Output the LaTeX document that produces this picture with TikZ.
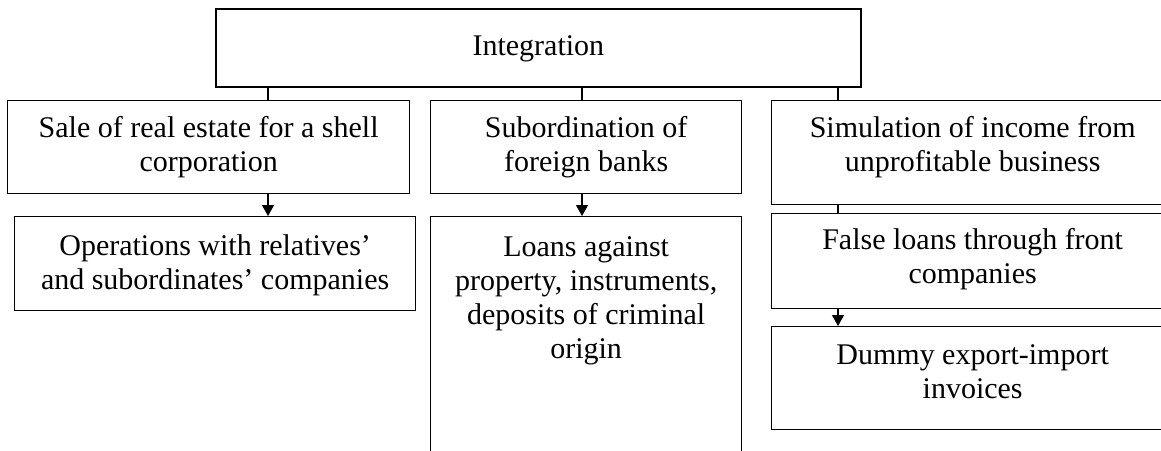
\documentclass[tikz,border=0pt]{standalone}
\usepackage{fontspec}
\setmainfont{Liberation Serif}
\usetikzlibrary{arrows.meta}
\newcommand{\bxtext}[4]{\parbox[c][#2][t]{#1}{\centering\fontsize{30pt}{34pt}\selectfont\vspace*{#3}\rule{0pt}{24pt}#4\par}}
\begin{document}
\begin{tikzpicture}[x=1pt,y=-1pt,
  box/.style={draw=black, line width=1.3pt, inner sep=0pt, anchor=north west},
  topbox/.style={box, line width=1.8pt},
  link/.style={draw=black, line width=1.3pt},
  arr/.style={link, -{Triangle[width=12pt,length=11pt]}}]
\useasboundingbox (0,0) rectangle (1161,450);
\clip (0,0) rectangle (1161,450);
\fill[white] (0,0) rectangle (1161,450);
% boxes
\node[topbox] (int) at (215,8) {\bxtext{645pt}{78pt}{23pt}{Integration}};
\node[box] (b1) at (7,100) {\bxtext{402pt}{93pt}{13pt}{Sale of real estate for a shell\\corporation}};
\node[box] (b2) at (430,100) {\bxtext{311pt}{93pt}{13pt}{Subordination of\\foreign banks}};
\node[box] (b3) at (771,100) {\bxtext{402pt}{104pt}{13pt}{Simulation of income from\\unprofitable business}};
\node[box] (ops) at (14,216) {\bxtext{401pt}{94pt}{15pt}{Operations with relatives’\\and subordinates’ companies}};
\node[box] (loans) at (430,216) {\bxtext{311pt}{250pt}{16pt}{Loans against\\property, instruments,\\deposits of criminal\\origin}};
\node[box] (b4) at (771,213) {\bxtext{402pt}{95pt}{12pt}{False loans through front\\companies}};
\node[box] (b5) at (771,326) {\bxtext{402pt}{103pt}{14pt}{Dummy export-import\\invoices}};
% connector columns
\coordinate (xa) at (268,0);
\coordinate (xb) at (582,0);
\coordinate (xc) at (838,0);
% connectors
\draw[link] (int.south -| xa) -- (b1.north -| xa);
\draw[link] (int.south -| xb) -- (b2.north -| xb);
\draw[link] (int.south -| xc) -- (b3.north -| xc);
\draw[arr] (b1.south -| xa) -- (ops.north -| xa);
\draw[arr] (b2.south -| xb) -- (loans.north -| xb);
\draw[link] (b3.south -| xc) -- (b4.north -| xc);
\draw[arr] (b4.south -| xc) -- (b5.north -| xc);
\end{tikzpicture}
\end{document}
